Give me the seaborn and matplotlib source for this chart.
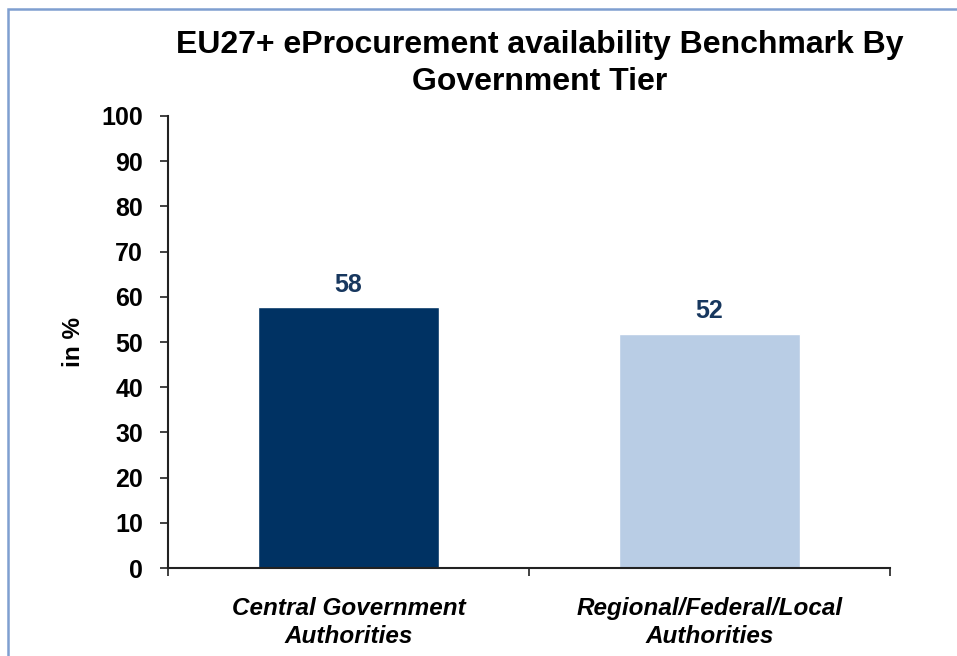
import matplotlib
matplotlib.use("Agg")
import matplotlib.pyplot as plt
import seaborn as sns
from matplotlib.patches import Rectangle
from matplotlib.ticker import FixedLocator, NullFormatter

# Data
categories = ["Central Government\nAuthorities", "Regional/Federal/Local\nAuthorities"]
values = [57.7, 51.8]
value_labels = ["58", "52"]
bar_colors = ["#003263", "#b9cde5"]
y_ticks = list(range(0, 101, 10))

sns.set_theme(style="white")
plt.rcParams["font.family"] = ["Liberation Sans", "DejaVu Sans"]
plt.rcParams["text.color"] = "black"
plt.rcParams["xtick.color"] = "black"
plt.rcParams["ytick.color"] = "black"
plt.rcParams["axes.labelcolor"] = "black"

fig = plt.figure(figsize=(9.57, 6.56), dpi=100)
ax = fig.add_axes([0.1755, 0.1341, 0.7545, 0.6891])

sns.barplot(x=categories, y=values, hue=categories, palette=bar_colors,
            legend=False, width=0.5, saturation=1, ax=ax)

# Value labels above bars
for i, (v, lab) in enumerate(zip(values, value_labels)):
    ax.text(i, v + 2.3, lab, ha="center", va="bottom", fontsize=18,
            fontweight="bold", color="#17375e")

ax.set_xlim(-0.5, 1.5)
ax.set_ylim(0, 100)
ax.set_yticks(y_ticks)
ax.set_yticklabels([str(t) for t in y_ticks], fontsize=18, fontweight="bold")
ax.set_ylabel("in %", fontsize=17.5, fontweight="bold", labelpad=12)

# major ticks at category boundaries, labels on minor ticks
ax.xaxis.set_major_locator(FixedLocator([-0.5, 0.5, 1.5]))
ax.xaxis.set_major_formatter(NullFormatter())
ax.xaxis.set_minor_locator(FixedLocator([0, 1]))
ax.set_xticklabels(categories, minor=True, fontsize=17.5, fontweight="bold",
                   style="italic")
ax.tick_params(axis="x", which="major", direction="out", length=6, width=1.3,
               bottom=True, color="#333333")
ax.tick_params(axis="x", which="minor", length=0, pad=21)
ax.tick_params(axis="y", direction="out", length=6, width=1.3, left=True,
               color="#333333", pad=12)
for t in ax.get_xticklabels(minor=True):
    t.set_linespacing(1.25)

sns.despine(ax=ax)
for side in ["left", "bottom"]:
    ax.spines[side].set_color("#222222")
    ax.spines[side].set_linewidth(1.5)

fig.text(0.564, 0.954, "EU27+ eProcurement availability Benchmark By\nGovernment Tier",
         ha="center", va="top", fontsize=23, fontweight="bold", linespacing=1.3)

# light blue frame around the chart area
fig.patches.append(Rectangle((8 / 957, -0.05), 1.0, 1 - 9 / 656 + 0.05,
                             transform=fig.transFigure, fill=False,
                             edgecolor="#7f9fd0", linewidth=1.8))

fig.savefig("out.png", dpi=100)
